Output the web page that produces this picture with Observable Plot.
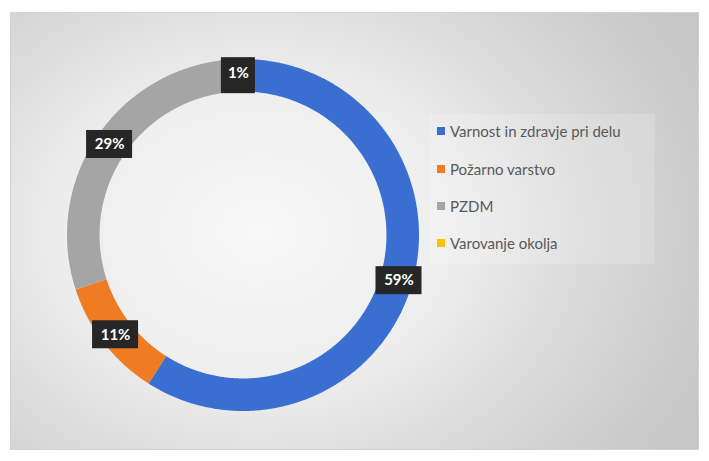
<!DOCTYPE html>
<html>
<head>
<meta charset="utf-8">
<script src="https://cdn.jsdelivr.net/npm/d3@7"></script>
<script src="https://cdn.jsdelivr.net/npm/@observablehq/plot@0.6"></script>
<style>
html, body { margin: 0; padding: 0; background: #ffffff; }
#wrap { position: relative; width: 709px; height: 461px; overflow: hidden; font-family: Lato, "Open Sans", sans-serif; }
#bg { position: absolute; left: 10px; top: 12px; width: 687px; height: 436px; border: 1px solid #d2d2d2;
  background: radial-gradient(ellipse 72% 90% at 36% 50%, #f8f8f8 0%, #eeeeee 38%, #d6d6d6 72%, #c6c6c6 100%); }
#chart { position: absolute; left: 0; top: 0; }
#legend { position: absolute; left: 429px; top: 114px; width: 226px; height: 150px; background: rgba(255,255,255,0.18); }
.item { position: absolute; left: 8px; display: flex; align-items: center; font-size: 15px; color: #595959; white-space: nowrap; }
.sw { width: 8px; height: 8px; margin-right: 5px; }
</style>
</head>
<body>
<div id="wrap">
  <div id="bg"></div>
  <div id="chart"></div>
  <div id="legend"></div>
</div>
<script>
// ---- data ----
const categories = ["Varnost in zdravje pri delu", "Požarno varstvo", "PZDM", "Varovanje okolja"];
const shares = [59, 11, 29, 1];
const labels = ["59%", "11%", "29%", "1%"];
const colors = ["#3a6fd1", "#ef7b22", "#a5a5a5", "#ffc000"];

// ---- layout ----
const W = 709, H = 461;
const cx = 243, cy = 235, R = 176;
const inner = 0.815; // inner radius as a fraction of the outer one

const rows = categories.map((c, i) => ({cat: c, share: shares[i], label: labels[i]}));
const arcs = d3.pie().sort(null).value(d => d.share).startAngle(0).endAngle(2 * Math.PI)(rows);

// ring segments sampled along the arc (clockwise from 12 o'clock)
const ring = [];
for (const a of arcs) {
  const n = Math.max(2, Math.ceil((a.endAngle - a.startAngle) / (Math.PI / 360))) + 1;
  for (let k = 0; k < n; k++) {
    const t = a.startAngle + (a.endAngle - a.startAngle) * k / (n - 1);
    ring.push({cat: a.data.cat, x1: Math.sin(t), y1: Math.cos(t), x2: inner * Math.sin(t), y2: inner * Math.cos(t)});
  }
}
const mid = 0.92;
const labelPts = arcs.map(a => {
  const t = (a.startAngle + a.endAngle) / 2;
  return {label: a.data.label, x: mid * Math.sin(t), y: mid * Math.cos(t)};
});

const font = "Lato, 'Open Sans', sans-serif";

const chart = Plot.plot({
  width: W, height: H,
  margin: 0,
  style: {background: "transparent", overflow: "visible"},
  x: {type: "linear", domain: [-1, 1], range: [cx - R, cx + R], axis: null},
  y: {type: "linear", domain: [-1, 1], range: [cy + R, cy - R], axis: null},
  color: {domain: categories, range: colors},
  marks: [
    Plot.area(ring, {x1: "x1", y1: "y1", x2: "x2", y2: "y2", z: "cat", fill: "cat", curve: "linear"}),
    Plot.rect(labelPts.filter(d => d.label.length <= 2), {x1: "x", x2: "x", y1: "y", y2: "y", fill: "#262626", insetTop: -16, insetBottom: -20, insetLeft: -17, insetRight: -17}),
    Plot.rect(labelPts.filter(d => d.label.length > 2), {x1: "x", x2: "x", y1: "y", y2: "y", fill: "#262626", insetTop: -14, insetBottom: -14, insetLeft: -23, insetRight: -23}),
    Plot.text(labelPts, {x: "x", y: "y", text: "label", fill: "white", fontSize: 15, fontWeight: "bold", fontFamily: font})
  ]
});
document.getElementById("chart").appendChild(chart);

// ---- legend ----
const legend = document.getElementById("legend");
const rowTops = [8, 46, 83, 120];
categories.forEach((c, i) => {
  const it = document.createElement("div");
  it.className = "item";
  it.style.top = rowTops[i] + "px";
  const sw = document.createElement("span");
  sw.className = "sw";
  sw.style.background = colors[i];
  const tx = document.createElement("span");
  tx.textContent = c;
  it.appendChild(sw);
  it.appendChild(tx);
  legend.appendChild(it);
});
</script>
</body>
</html>
